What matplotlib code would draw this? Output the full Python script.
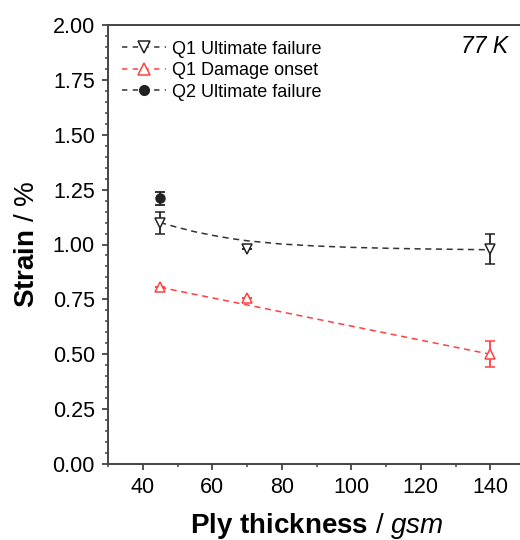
import matplotlib
matplotlib.use("Agg")
import matplotlib.pyplot as plt
from matplotlib.ticker import MultipleLocator
import numpy as np

plt.rcParams['font.family'] = ['Liberation Sans', 'DejaVu Sans']
plt.rcParams['mathtext.fontset'] = 'custom'
plt.rcParams['mathtext.rm'] = 'Liberation Sans'
plt.rcParams['mathtext.bf'] = 'Liberation Sans:bold'
plt.rcParams['mathtext.it'] = 'Liberation Sans:italic'

# data
q1_uf_x = [45, 70, 140]
q1_uf_y = [1.10, 0.98, 0.98]
q1_uf_err = [0.05, 0.0, 0.068]

q1_do_x = [45, 70, 140]
q1_do_y = [0.805, 0.755, 0.50]
q1_do_err = [0.0, 0.0, 0.06]

q2_uf_x = [45]
q2_uf_y = [1.21]
q2_uf_err = [0.03]

# trend lines
fit_uf_x = [45, 50, 55, 60, 65, 70, 80, 90, 100, 110, 120, 130, 140]
fit_uf_y = [1.10, 1.078, 1.058, 1.042, 1.028, 1.017, 1.002, 0.993, 0.987, 0.983, 0.980, 0.978, 0.976]
fit_do_x = [45, 140]
fit_do_y = [0.805, 0.50]

labels = ['Q1 Ultimate failure', 'Q1 Damage onset', 'Q2 Ultimate failure']

black = '#222222'
red = '#ff4040'

fig = plt.figure(figsize=(5.2, 5.4), dpi=100)
ax = fig.add_axes([108/520, 76/540, (525-108)/520, (464-25)/540])

ax.plot(fit_uf_x, fit_uf_y, ls=(0, (4, 3)), color='#333333', lw=1.1, zorder=1)
ax.plot(fit_do_x, fit_do_y, ls=(0, (4, 3)), color=red, lw=1.1, zorder=1)

ax.errorbar(q1_uf_x, q1_uf_y, yerr=q1_uf_err, fmt='v', mfc='white', mec=black,
            ms=7.5, mew=1.1, ecolor=black, elinewidth=1.3, capsize=3.5, capthick=1.3, zorder=3)
ax.errorbar(q1_do_x, q1_do_y, yerr=q1_do_err, fmt='^', mfc='white', mec=red,
            ms=7.5, mew=1.1, ecolor=red, elinewidth=1.3, capsize=3.5, capthick=1.3, zorder=3)
ax.errorbar(q2_uf_x, q2_uf_y, yerr=q2_uf_err, fmt='o', color=black,
            ms=6.5, ecolor=black, elinewidth=1.3, capsize=3.5, capthick=1.3, zorder=3)

# legend proxies
leg_ls = (0, (3.5, 3.5))
h1, = ax.plot([], [], ls=leg_ls, color='#333333', lw=1.1, marker='v', mfc='white', mec=black, ms=8.5, mew=1.1)
h2, = ax.plot([], [], ls=leg_ls, color=red, lw=1.1, marker='^', mfc='white', mec=red, ms=8.5, mew=1.1)
h3, = ax.plot([], [], ls=leg_ls, color='#333333', lw=1.1, marker='o', mfc=black, mec=black, ms=7)
ax.legend([h1, h2, h3], labels,
          loc='upper left', bbox_to_anchor=(0.0, 0.997), frameon=False, fontsize=13,
          handlelength=2.4, handletextpad=0.35, labelspacing=0.25, borderaxespad=0.4)

ax.text(0.959, 0.978, '77 K', transform=ax.transAxes, fontsize=16.5, style='italic',
        ha='right', va='top')

ax.set_xlim(30, 150)
ax.set_ylim(0, 2.0)
ax.xaxis.set_major_locator(MultipleLocator(20))
ax.xaxis.set_minor_locator(MultipleLocator(10))
ax.yaxis.set_minor_locator(MultipleLocator(0.05))
ax.set_yticks(np.arange(0, 2.01, 0.25))
ax.set_yticklabels([f'{v:.2f}' for v in np.arange(0, 2.01, 0.25)])
ax.set_xticks([40, 60, 80, 100, 120, 140])

ax.tick_params(which='major', direction='out', length=4.5, width=1.3, labelsize=15.5, color='#444444', pad=5)
ax.tick_params(which='minor', direction='out', length=2.5, width=1.1, color='#444444')
ax.tick_params(top=False, right=False, which='both')
for s in ax.spines.values():
    s.set_linewidth(1.4)
    s.set_color('#444444')

ax.set_xlabel(r'$\mathbf{Ply\ thickness}$ / $\mathit{gsm}$', fontsize=20, labelpad=9)
ax.set_ylabel(r'$\mathbf{Strain}$ / %', fontsize=20, labelpad=9)

fig.savefig('out.png', dpi=100)
